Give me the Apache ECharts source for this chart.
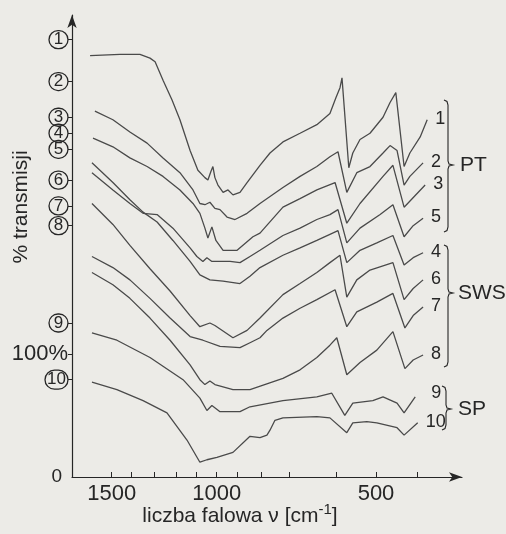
<!DOCTYPE html>
<html>
<head>
<meta charset="utf-8">
<script src="https://cdn.jsdelivr.net/npm/echarts@6/dist/echarts.min.js"></script>
<style>
html, body { margin: 0; padding: 0; background: #ecebe7; }
#chart { width: 506px; height: 534px; }
</style>
</head>
<body>
<div id="chart"></div>
<script>
// widma IR: [liczba falowa cm-1, % transmisji (krzywe przesunięte)]
var curve1 = [[1603,342],[1458,343],[1363,343],[1318,340],[1295,337],[1259,322],[1218,306],[1181,290],[1132,265],[1094,249],[1059,243],[1044,241],[1029,248],[1019,252],[1009,243],[994,237],[969,231],[945,233],[921,229],[889,231],[860,239],[807,253],[770,263],[723,272],[677,279],[641,286],[613,295],[600,308],[590,316],[585,324],[568,251],[558,263],[540,274],[515,279],[483,292],[466,304],[452,312],[432,252],[418,263],[393,276],[376,290]];
var curve2 = [[1580,297],[1494,290],[1409,280],[1331,271],[1259,259],[1181,247],[1118,233],[1084,222],[1059,221],[1034,223],[1009,218],[984,217],[950,211],[911,209],[860,214],[807,222],[723,235],[677,244],[641,252],[613,260],[595,264],[573,231],[548,247],[515,252],[483,263],[466,269],[449,265],[432,237],[418,244],[386,255]];
var curve3 = [[1589,275],[1494,268],[1409,259],[1331,252],[1259,244],[1181,233],[1118,222],[1084,214],[1059,202],[1044,194],[1024,203],[1004,192],[969,184],[901,184],[836,195],[807,198],[723,219],[677,226],[641,233],[602,239],[573,206],[540,222],[483,244],[459,253],[432,219],[381,237]];
var curve4 = [[1594,255],[1494,239],[1409,225],[1349,215],[1286,207],[1214,192],[1132,175],[1084,164],[1034,160],[969,159],[889,157],[848,163],[807,170],[723,180],[677,186],[641,192],[613,197],[595,200],[573,174],[540,184],[498,190],[459,196],[432,172],[410,178],[386,182]];
var curve5 = [[1594,247],[1494,233],[1409,222],[1349,214],[1286,213],[1214,202],[1132,186],[1099,179],[1069,175],[1049,178],[1024,175],[984,175],[935,175],[889,174],[848,179],[807,184],[723,196],[677,202],[641,209],[613,213],[595,217],[573,190],[540,202],[490,213],[459,221],[432,195],[410,204],[386,210]];
var curve6 = [[1594,222],[1494,205],[1409,188],[1318,169],[1227,151],[1132,131],[1084,122],[1034,125],[1009,123],[921,113],[860,119],[807,129],[723,148],[677,157],[641,166],[613,174],[590,180],[573,146],[548,160],[515,168],[459,174],[432,144],[410,153],[386,160]];
var curve7 = [[1594,179],[1494,170],[1409,160],[1318,145],[1227,129],[1132,114],[1069,111],[984,106],[889,105],[848,109],[807,113],[781,119],[723,129],[677,137],[641,144],[602,152],[573,122],[548,134],[498,142],[459,149],[430,121],[410,131],[386,138]];
var curve8 = [[1594,166],[1494,156],[1409,145],[1318,129],[1227,111],[1132,91],[1084,79],[1059,75],[1034,78],[1009,75],[921,71],[848,71],[723,80],[677,87],[641,97],[613,107],[598,113],[573,83],[540,93],[498,103],[459,118],[430,88],[410,95],[386,99]];
var curve9 = [[1594,117],[1474,111],[1318,97],[1166,79],[1084,64],[1049,54],[1024,58],[984,53],[889,53],[848,57],[723,62],[641,65],[609,68],[578,50],[558,60],[508,62],[483,65],[449,60],[432,52],[405,65]];
var curve10 = [[1594,77],[1474,71],[1349,62],[1241,52],[1147,30],[1084,12],[1049,14],[999,16],[921,20],[848,33],[807,32],[781,34],[770,38],[752,46],[723,48],[641,49],[613,48],[573,36],[558,44],[523,45],[498,44],[449,40],[432,34],[399,44]];

var curves = [curve1, curve2, curve3, curve4, curve5, curve6, curve7, curve8, curve9, curve10];
var curveNames = ['1', '2', '3', '4', '5', '6', '7', '8', '9', '10'];

// poziomy 100% poszczególnych krzywych (kółka na osi y)
var zeroLevels = [355, 321, 292, 279, 266, 241, 220, 204, 125, 79];
var zeroNames = ['1', '2', '3', '4', '5', '6', '7', '8', '9', '10'];

var xTicks = [1500, 1400, 1300, 1200, 1100, 1000, 900, 800, 700, 600, 500, 400];
var xLabels = [1500, 1000, 500];

// oś x na oryginale nie jest liniowa - punkty kalibracji skali
var scaleWn = [1600, 1500, 1400, 1300, 1200, 1100, 1000, 900, 800, 700, 600, 500, 400, 300];
var scalePos = [90.7, 111.7, 131.7, 154, 176, 196.7, 216.7, 237.3, 261.7, 289.3, 336, 376, 417.3, 458.6];

function wnToPos(wn) {
    for (var i = 0; i < scaleWn.length - 1; i++) {
        if (wn >= scaleWn[i + 1] || i === scaleWn.length - 2) {
            var t = (scaleWn[i] - wn) / (scaleWn[i] - scaleWn[i + 1]);
            return scalePos[i] + t * (scalePos[i + 1] - scalePos[i]);
        }
    }
}
function posToWn(p) {
    for (var i = 0; i < scalePos.length - 1; i++) {
        if (p <= scalePos[i + 1] || i === scalePos.length - 2) {
            var t = (p - scalePos[i]) / (scalePos[i + 1] - scalePos[i]);
            return scaleWn[i] - t * (scaleWn[i] - scaleWn[i + 1]);
        }
    }
}

var FONT = "'Liberation Sans Narrow', 'Liberation Sans', Arial, sans-serif";
var INK = '#262626';

function brace(x, y1, ym, y2) {
    return {
        type: 'polyline',
        shape: {
            points: [[x - 4, y1], [x - 1, y1 + 1.5], [x, y1 + 5], [x, ym - 4], [x + 1, ym - 1], [x + 5, ym],
                [x + 1, ym + 1], [x, ym + 4], [x, y2 - 5], [x - 1, y2 - 1.5], [x - 4, y2]]
        },
        style: { fill: null, stroke: INK, lineWidth: 1.1 }
    };
}

var chart = echarts.init(document.getElementById('chart'));

var option = {
    backgroundColor: '#ecebe7',
    animation: false,
    grid: { left: 72, right: 44, top: 15, bottom: 57 },
    xAxis: {
        type: 'value',
        min: 72,
        max: 462,
        splitLine: { show: false },
        axisLine: {
            lineStyle: { color: INK, width: 1.2 },
            symbol: ['none', 'arrow'],
            symbolSize: [7, 13]
        },
        axisTick: {
            inside: true,
            length: 5,
            lineStyle: { color: INK },
            customValues: xTicks.map(wnToPos)
        },
        axisLabel: {
            customValues: xLabels.map(wnToPos),
            margin: 6,
            color: INK,
            fontFamily: FONT,
            fontSize: 22,
            formatter: function (v) { return String(Math.round(posToWn(v))); }
        }
    },
    yAxis: {
        type: 'value',
        min: 0,
        max: 375,
        splitLine: { show: false },
        axisLine: {
            lineStyle: { color: INK, width: 1.2 },
            symbol: ['none', 'arrow'],
            symbolSize: [7, 13]
        },
        axisTick: {
            length: 4,
            lineStyle: { color: INK },
            customValues: zeroLevels.concat([100])
        },
        axisLabel: {
            customValues: zeroLevels.concat([0, 100]),
            margin: 4,
            color: INK,
            fontFamily: FONT,
            formatter: function (v) {
                if (v === 0) return '{z|0}';
                if (v === 100) return '{p|100%}';
                var i = zeroLevels.indexOf(v);
                if (i < 0) return '';
                return zeroNames[i].length > 1 ? '{d|' + zeroNames[i] + '}' : '{c|' + zeroNames[i] + '}';
            },
            rich: {
                z: { fontSize: 19, fontFamily: FONT, color: INK, padding: [0, 6, 0, 0] },
                p: { fontSize: 22, fontFamily: FONT, color: INK },
                c: {
                    fontSize: 17, fontFamily: FONT, color: INK, width: 19, height: 18, lineHeight: 18,
                    align: 'center', borderColor: INK, borderWidth: 1.3, borderRadius: 10
                },
                d: {
                    fontSize: 17, fontFamily: FONT, color: INK, width: 23, height: 19, lineHeight: 19,
                    align: 'center', borderColor: INK, borderWidth: 1.3, borderRadius: 10
                }
            }
        }
    },
    series: curves.map(function (c, i) {
        return {
            name: curveNames[i],
            type: 'line',
            showSymbol: false,
            silent: true,
            lineStyle: { color: '#4a4a4a', width: 1.3 },
            data: c.map(function (p) { return [wnToPos(p[0]), p[1]]; }),
            endLabel: {
                show: true,
                distance: 8,
                offset: curveNames[i] === '9' ? [8, -4] : [0, -1],
                formatter: curveNames[i],
                color: INK,
                fontFamily: FONT,
                fontSize: 18
            }
        };
    }),
    graphic: [
        {
            type: 'text', x: 21, y: 207, rotation: Math.PI / 2,
            style: { text: '% transmisji', fontFamily: FONT, fontSize: 21, fill: INK, align: 'center', verticalAlign: 'middle' }
        },
        {
            type: 'text', x: 240, y: 516,
            style: {
                text: '{n|liczba falowa ν [cm}{s|-1}{n|]}',
                align: 'center', verticalAlign: 'middle',
                rich: {
                    n: { fontFamily: FONT, fontSize: 21, fill: INK },
                    s: { fontFamily: FONT, fontSize: 15, fill: INK, padding: [0, 0, 12, 0] }
                }
            }
        },
        brace(448, 100, 165, 232),
        brace(448, 245, 293, 367),
        brace(446, 386, 409, 430),
        { type: 'text', x: 460, y: 165, style: { text: 'PT', fontFamily: FONT, fontSize: 21, fill: INK, verticalAlign: 'middle' } },
        { type: 'text', x: 458, y: 293, style: { text: 'SWS', fontFamily: FONT, fontSize: 21, fill: INK, verticalAlign: 'middle' } },
        { type: 'text', x: 458, y: 409, style: { text: 'SP', fontFamily: FONT, fontSize: 21, fill: INK, verticalAlign: 'middle' } }
    ]
};

chart.setOption(option);
</script>
</body>
</html>
